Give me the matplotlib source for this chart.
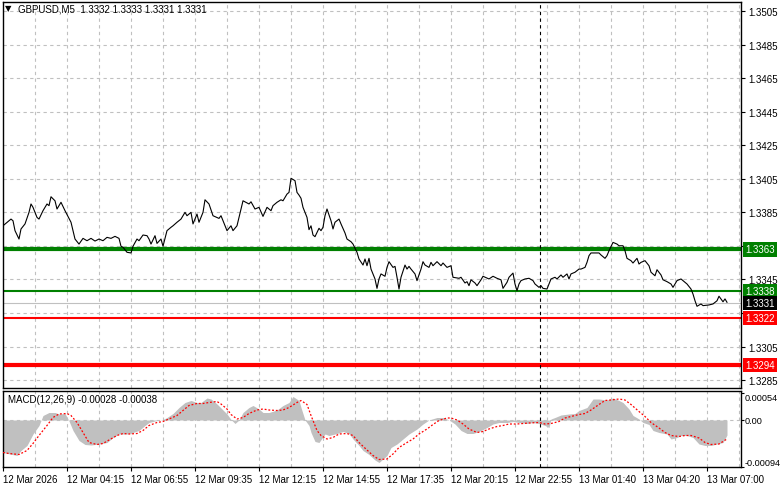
import numpy as np
import matplotlib
matplotlib.use('Agg')
from matplotlib import pyplot as plt

# close prices (x = bar number, 5 min bars)
price_idx = [0, 4, 5, 6, 8, 9, 11, 13, 14, 15,
             17, 18, 20, 22, 23, 24, 26, 27, 28, 29,
             31, 34, 36, 38, 40, 42, 44, 46, 48, 50,
             52, 54, 56, 58, 59, 60, 62, 64, 65, 67,
             68, 70, 72, 73, 74, 76, 77, 79, 80, 82,
             84, 85, 87, 89, 91, 92, 94, 95, 96, 97,
             98, 100, 101, 103, 105, 108, 109, 112, 114, 115,
             117, 119, 120, 123, 124, 126, 128, 130, 132, 134,
             135, 137, 139, 140, 142, 143, 144, 146, 147, 148,
             149, 150, 152, 153, 154, 155, 156, 158, 159, 160,
             161, 162, 164, 165, 166, 168, 169, 171, 172, 174,
             175, 177, 178, 180, 181, 182, 183, 184, 186, 187,
             188, 189, 191, 192, 193, 195, 196, 197, 198, 199,
             201, 202, 203, 204, 206, 207, 209, 210, 211, 213,
             214, 215, 217, 219, 220, 222, 224, 225, 228, 229,
             231, 232, 233, 234, 236, 237, 239, 240, 243, 245,
             247, 249, 250, 252, 253, 255, 256, 257, 258, 259,
             261, 263, 265, 266, 268, 269, 270, 272, 274, 276,
             277, 279, 280, 282, 283, 284, 286, 288, 289, 291,
             292, 293, 294, 296, 298, 299, 301, 302, 303, 305,
             307, 308, 310, 311, 312, 314, 315, 317, 318, 319,
             321, 323, 324, 326, 327, 329, 330, 332, 334, 335,
             337, 339, 340, 342, 344, 345, 346, 347, 349, 350,
             353, 355, 357, 358, 360, 361, 362]
close = [1.33770, 1.33810, 1.33800, 1.33741, 1.33691, 1.33751, 1.33781, 1.33850, 1.33900, 1.33880,
         1.33820, 1.33810, 1.33860, 1.33900, 1.33890, 1.33943, 1.33919, 1.33870, 1.33890, 1.33910,
         1.33860, 1.33791, 1.33691, 1.33661, 1.33695, 1.33681, 1.33695, 1.33679, 1.33691, 1.33681,
         1.33701, 1.33695, 1.33707, 1.33695, 1.33648, 1.33642, 1.33612, 1.33608, 1.33648, 1.33691,
         1.33681, 1.33715, 1.33711, 1.33691, 1.33661, 1.33711, 1.33665, 1.33691, 1.33648, 1.33741,
         1.33761, 1.33770, 1.33791, 1.33810, 1.33850, 1.33830, 1.33850, 1.33781, 1.33810, 1.33840,
         1.33791, 1.33850, 1.33925, 1.33900, 1.33830, 1.33814, 1.33830, 1.33741, 1.33770, 1.33741,
         1.33770, 1.33870, 1.33919, 1.33900, 1.33913, 1.33870, 1.33880, 1.33826, 1.33880, 1.33860,
         1.33890, 1.33910, 1.33925, 1.33919, 1.33959, 1.33969, 1.34053, 1.34039, 1.33969, 1.33953,
         1.33934, 1.33880, 1.33820, 1.33747, 1.33770, 1.33715, 1.33705, 1.33755, 1.33741, 1.33761,
         1.33830, 1.33870, 1.33800, 1.33751, 1.33791, 1.33810, 1.33781, 1.33727, 1.33691, 1.33675,
         1.33661, 1.33612, 1.33572, 1.33536, 1.33572, 1.33532, 1.33576, 1.33512, 1.33453, 1.33397,
         1.33453, 1.33483, 1.33469, 1.33522, 1.33556, 1.33522, 1.33528, 1.33463, 1.33393, 1.33463,
         1.33536, 1.33512, 1.33528, 1.33512, 1.33483, 1.33443, 1.33512, 1.33556, 1.33536, 1.33522,
         1.33552, 1.33532, 1.33556, 1.33532, 1.33548, 1.33522, 1.33532, 1.33463, 1.33457, 1.33463,
         1.33429, 1.33437, 1.33413, 1.33448, 1.33429, 1.33413, 1.33448, 1.33469, 1.33453, 1.33469,
         1.33457, 1.33448, 1.33397, 1.33433, 1.33463, 1.33488, 1.33423, 1.33383, 1.33423, 1.33443,
         1.33453, 1.33457, 1.33443, 1.33423, 1.33403, 1.33413, 1.33397, 1.33393, 1.33453, 1.33463,
         1.33453, 1.33477, 1.33463, 1.33483, 1.33453, 1.33483, 1.33493, 1.33512, 1.33512, 1.33522,
         1.33552, 1.33592, 1.33608, 1.33608, 1.33608, 1.33596, 1.33576, 1.33592, 1.33621, 1.33671,
         1.33661, 1.33651, 1.33651, 1.33621, 1.33576, 1.33562, 1.33548, 1.33576, 1.33542, 1.33552,
         1.33562, 1.33532, 1.33493, 1.33472, 1.33508, 1.33477, 1.33448, 1.33437, 1.33423, 1.33403,
         1.33443, 1.33453, 1.33443, 1.33423, 1.33393, 1.33363, 1.33323, 1.33290, 1.33304, 1.33294,
         1.33298, 1.33304, 1.33323, 1.33350, 1.33317, 1.33334, 1.33314]

# MACD histogram
hist_idx = [0, 7, 9, 12, 15, 18, 20, 23, 26, 28,
            31, 33, 35, 38, 41, 44, 48, 52, 55, 58,
            62, 65, 68, 71, 73, 77, 80, 82, 85, 88,
            91, 94, 97, 99, 102, 104, 107, 109, 112, 114,
            116, 118, 120, 123, 125, 128, 130, 133, 137, 140,
            143, 145, 148, 149, 151, 153, 154, 156, 158, 161,
            163, 167, 170, 173, 175, 178, 180, 183, 186, 188,
            190, 192, 194, 197, 200, 203, 207, 210, 213, 217,
            220, 223, 226, 229, 232, 235, 238, 242, 245, 248,
            252, 255, 258, 262, 265, 268, 271, 273, 274, 276,
            279, 283, 286, 288, 292, 295, 298, 302, 305, 308,
            310, 313, 315, 318, 320, 323, 325, 328, 332, 334,
            337, 339, 342, 345, 348, 351, 354, 357, 360, 362]
macd = [-0.00065, -0.00071, -0.00061, -0.00051, -0.00028, -0.00011, 0.00009, 0.00015, 0.00015, 0.00012,
        0.00013, -0.00002, -0.00021, -0.00041, -0.00049, -0.00050, -0.00048, -0.00045, -0.00035, -0.00028,
        -0.00028, -0.00025, -0.00021, -0.00011, -0.00005, -0.00001, 0.00001, 0.00005, 0.00013, 0.00025,
        0.00035, 0.00039, 0.00035, 0.00035, 0.00044, 0.00042, 0.00032, 0.00024, 0.00012, 0.00001,
        -0.00007, 0.00000, 0.00015, 0.00025, 0.00029, 0.00022, 0.00015, 0.00015, 0.00020, 0.00029,
        0.00035, 0.00047, 0.00039, 0.00025, 0.00000, -0.00011, -0.00025, -0.00043, -0.00045, -0.00028,
        -0.00031, -0.00027, -0.00023, -0.00027, -0.00038, -0.00051, -0.00061, -0.00069, -0.00080, -0.00085,
        -0.00078, -0.00071, -0.00055, -0.00048, -0.00038, -0.00028, -0.00018, -0.00008, 0.00000, 0.00005,
        0.00005, 0.00000, -0.00008, -0.00021, -0.00027, -0.00027, -0.00023, -0.00015, -0.00008, -0.00005,
        -0.00005, -0.00003, -0.00005, -0.00007, -0.00005, -0.00007, -0.00011, -0.00015, 0.00002, 0.00005,
        0.00010, 0.00012, 0.00013, 0.00019, 0.00025, 0.00042, 0.00042, 0.00040, 0.00044, 0.00039,
        0.00035, 0.00022, 0.00009, 0.00002, -0.00005, -0.00009, -0.00021, -0.00025, -0.00028, -0.00038,
        -0.00035, -0.00031, -0.00031, -0.00035, -0.00048, -0.00051, -0.00051, -0.00048, -0.00045, -0.00030]

# MACD signal line
sig_idx = [0, 3, 8, 12, 15, 18, 22, 25, 28, 32,
           34, 37, 40, 43, 47, 50, 53, 57, 60, 63,
           67, 70, 73, 77, 80, 83, 87, 90, 93, 97,
           100, 103, 107, 109, 112, 114, 117, 120, 123, 127,
           130, 133, 137, 140, 143, 147, 149, 152, 154, 157,
           159, 162, 165, 168, 172, 175, 178, 182, 185, 188,
           192, 195, 198, 202, 205, 208, 212, 215, 218, 222,
           224, 227, 230, 233, 237, 240, 243, 247, 250, 253,
           257, 260, 263, 268, 271, 274, 278, 281, 284, 288,
           291, 294, 298, 301, 304, 308, 311, 314, 318, 321,
           324, 328, 331, 334, 338, 341, 344, 348, 351, 354,
           358, 362]
signal = [-0.00065, -0.00067, -0.00069, -0.00061, -0.00047, -0.00031, -0.00011, 0.00005, 0.00012, 0.00013,
          0.00009, -0.00005, -0.00025, -0.00045, -0.00049, -0.00047, -0.00040, -0.00031, -0.00027, -0.00028,
          -0.00027, -0.00021, -0.00011, -0.00005, -0.00003, 0.00002, 0.00009, 0.00019, 0.00029, 0.00033,
          0.00033, 0.00035, 0.00037, 0.00032, 0.00022, 0.00011, 0.00002, 0.00005, 0.00013, 0.00020,
          0.00022, 0.00020, 0.00019, 0.00020, 0.00025, 0.00035, 0.00039, 0.00031, 0.00009, -0.00021,
          -0.00031, -0.00038, -0.00035, -0.00028, -0.00027, -0.00031, -0.00045, -0.00060, -0.00071, -0.00079,
          -0.00078, -0.00068, -0.00055, -0.00045, -0.00038, -0.00028, -0.00018, -0.00009, -0.00001, 0.00004,
          0.00004, 0.00000, -0.00008, -0.00018, -0.00025, -0.00023, -0.00018, -0.00013, -0.00011, -0.00008,
          -0.00008, -0.00007, -0.00006, -0.00005, -0.00008, -0.00007, -0.00003, 0.00004, 0.00007, 0.00011,
          0.00013, 0.00020, 0.00031, 0.00039, 0.00040, 0.00042, 0.00040, 0.00031, 0.00017, 0.00007,
          -0.00005, -0.00016, -0.00025, -0.00031, -0.00033, -0.00031, -0.00031, -0.00036, -0.00045, -0.00049,
          -0.00048, -0.00038]

price_ticks = [1.3285, 1.3305, 1.3325, 1.3345, 1.3365, 1.3385,
               1.3405, 1.3425, 1.3445, 1.3465, 1.3485, 1.3505]
# labels of 1.3325 and 1.3365 sit under the level boxes on the chart
hidden_ticks = [1.3325, 1.3365]
time_labels = ['12 Mar 2026', '12 Mar 04:15', '12 Mar 06:55', '12 Mar 09:35',
               '12 Mar 12:15', '12 Mar 14:55', '12 Mar 17:35', '12 Mar 20:15',
               '12 Mar 22:55', '13 Mar 01:40', '13 Mar 04:20', '13 Mar 07:00']
levels = [1.3363, 1.3338, 1.3322, 1.3294]
level_colors = ['#008000', '#008000', '#ff0000', '#ff0000']
level_widths = [3.0, 1.5, 1.5, 3.0]
bid = 1.3331
sep_bar = 268.5

plt.rcParams['font.family'] = ['Liberation Sans', 'DejaVu Sans']
FS = 7
W, H = 781, 489
fig = plt.figure(figsize=(W / 100, H / 100), dpi=100)
ax = fig.add_axes([3 / W, 1 - 389 / H, 738 / W, 386 / H])
ax2 = fig.add_axes([3 / W, 1 - 468 / H, 738 / W, 76 / H])

grid_kw = dict(color='#c0c0c0', lw=0.8, linestyle=(0, (3, 3)))

# ---- price panel
ax.set_xlim(0, 369)
ax.set_ylim(1.32803, 1.35104)
ax.set_yticks(price_ticks)
ax.set_yticklabels(['' if t in hidden_ticks else f'{t:.4f}' for t in price_ticks])
ax.set_xticks(np.arange(16, 369, 16))
ax.tick_params(axis='x', length=0, labelbottom=False)
ax.yaxis.tick_right()
ax.tick_params(axis='y', length=3, width=0.8, pad=2, labelsize=FS)
ax.grid(True, **grid_kw)
ax.set_axisbelow(True)

ax.axhline(bid, color='#c0c0c0', lw=0.8, zorder=1.5)
for lv, c, w in zip(levels, level_colors, level_widths):
    ax.axhline(lv, color=c, lw=w, zorder=1.6)
ax.plot(price_idx, close, color='black', lw=0.8, zorder=3)
ax.axvline(sep_bar, color='black', lw=0.8, linestyle=(0, (3, 3)), zorder=2)

box_kw = dict(xycoords=ax.get_yaxis_transform(), xytext=(4, 0), textcoords='offset pixels',
              ha='left', va='center', color='white', fontsize=FS, annotation_clip=False, zorder=10)
for lv, c in zip(levels, level_colors):
    ax.annotate(f'{lv:.4f}', xy=(1, lv), bbox=dict(boxstyle='square,pad=0.25', fc=c, ec='none'), **box_kw)
ax.annotate(f'{bid:.4f}', xy=(1, bid), bbox=dict(boxstyle='square,pad=0.25', fc='black', ec='none'), **box_kw)

fig.text(5 / W, 1 - 9 / H, '\u25bc', fontsize=6, va='center', ha='left', family='DejaVu Sans')
fig.text(18 / W, 1 - 9 / H, 'GBPUSD,M5  1.3332 1.3333 1.3331 1.3331', fontsize=FS, va='center', ha='left')

# ---- MACD panel
ax2.set_xlim(0, 369)
ax2.set_ylim(-0.00094, 0.00058)
ax2.fill_between(hist_idx, macd, 0, color='#c0c0c0', lw=0, zorder=2)
ax2.plot(sig_idx, signal, color='#ff0000', lw=0.9, linestyle=(0, (1.5, 1.5)), zorder=3)
ax2.axhline(0, color='#c0c0c0', lw=0.8, linestyle=(0, (3, 3)), zorder=1)
ax2.axvline(sep_bar, color='black', lw=0.8, linestyle=(0, (3, 3)), zorder=4)

ax2.set_xticks(np.arange(0, 369, 32))
ax2.set_xticklabels(time_labels)
ax2.set_xticks(np.arange(16, 369, 32), minor=True)
ax2.tick_params(axis='x', which='major', length=3, width=0.8, pad=2, labelsize=FS)
ax2.tick_params(axis='x', which='minor', length=0)
for lab in ax2.get_xticklabels():
    lab.set_ha('left')
ax2.xaxis.grid(True, which='both', **grid_kw)
ax2.set_axisbelow(True)

ax2.yaxis.tick_right()
ax2.set_yticks([0.00054, 0.0, -0.00094])
ax2.set_yticklabels(['0.00054', '0.00', '-0.00094'])
ax2.tick_params(axis='y', length=2, width=0.8, pad=0.5, labelsize=6.6)
ylabs = ax2.get_yticklabels()
ylabs[0].set_va('top')
ylabs[2].set_va('bottom')

ax2.text(5 / 738, 1 - 8 / 76, 'MACD(12,26,9) -0.00028 -0.00038', transform=ax2.transAxes,
         fontsize=FS, va='center', ha='left')

for a in (ax, ax2):
    for s in a.spines.values():
        s.set_linewidth(1.0)
        s.set_color('black')

fig.savefig('out.png', dpi=100, facecolor='white')
